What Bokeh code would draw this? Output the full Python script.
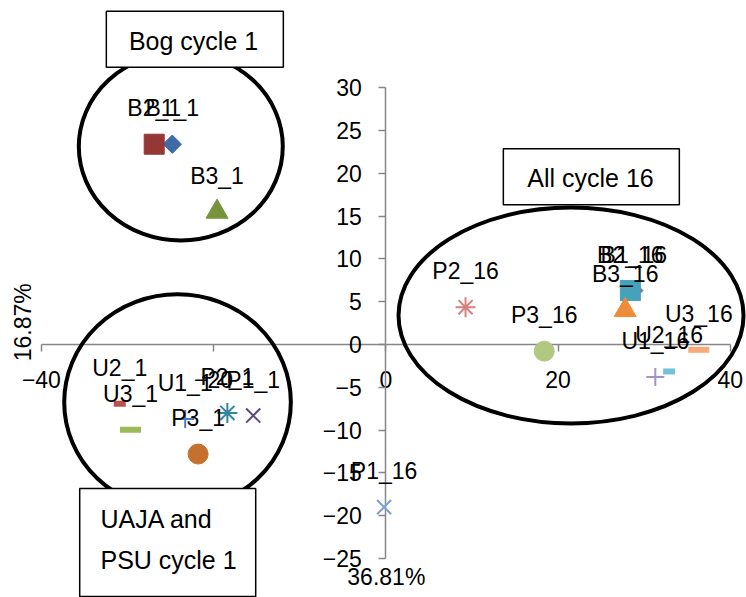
import numpy as np
from bokeh.plotting import figure
from bokeh.models import Range1d, FixedTicker, ColumnDataSource
from bokeh.core.properties import value
from bokeh.embed import file_html
from bokeh.resources import INLINE

# ---------------- data ----------------
sample_names = ["B1_1", "B2_1", "B3_1", "P1_1", "P2_1", "P3_1", "U1_1", "U2_1", "U3_1",
                "B1_16", "B2_16", "B3_16", "P1_16", "P2_16", "P3_16", "U1_16", "U2_16", "U3_16"]
pc1 = [-24.8, -26.9, -19.6, -15.4, -18.4, -21.8, -23.3, -30.9, -29.65,
       28.8, 28.4, 27.8, -0.2, 9.26, 18.4, 31.3, 32.9, 36.35]
pc2 = [23.4, 23.4, 15.5, -8.3, -8.0, -12.8, -8.7, -6.93, -9.97,
       6.3, 6.3, 4.0, -19.0, 4.36, -0.78, -3.8, -3.15, -0.62]
x_ticks = [-40, -20, 0, 20, 40]
y_ticks = [-25, -20, -15, -10, -5, 0, 5, 10, 15, 20, 25, 30]
x_title = "36.81%"
y_title = "16.87%"
group_titles = ["Bog cycle 1", "All cycle 16", "UAJA and", "PSU cycle 1"]

# ---------------- styles ----------------
markers = ["square", "square", "triangle", "x", "asterisk", "circle", "cross", "dash", "dash",
           "square", "square", "triangle", "x", "asterisk", "circle", "cross", "dash", "dash"]
angles = [np.pi / 4, 0, 0, 0, 0, 0, 0, 0, 0,
          np.pi / 4, 0, 0, 0, 0, 0, 0, 0, 0]
sizes = [13, 20, 22, 20, 20, 20, 18, 12, 21,
         13, 20, 22, 20, 20, 20, 18, 12, 21]
lws = [1, 1, 1, 2, 2, 1, 2, 6, 6,
       1, 1, 1, 2, 2, 1, 2, 6, 6]
colors = ["#3E6BA6", "#953735", "#77933C", "#604A7B", "#31859C", "#C5712D", "#4A7EBB", "#C0504D", "#9BBB59",
          "#8064A2", "#46A1BA", "#EE8C3A", "#7F9FD0", "#D7817F", "#B0C882", "#A492C0", "#75C2D8", "#F9AA78"]

FONT = "Liberation Sans"

p = figure(width=746, height=597, output_backend="svg", toolbar_location=None,
           x_range=Range1d(-44.75, 41.89), y_range=Range1d(-29.56, 40.19),
           min_border=0, min_border_left=0, min_border_right=0,
           min_border_top=0, min_border_bottom=0)
p.outline_line_color = None
p.xgrid.visible = False
p.ygrid.visible = False
p.background_fill_color = "white"
p.border_fill_color = "white"

for ax, ticks, bnds in ((p.xaxis[0], x_ticks, (-40, 40)), (p.yaxis[0], y_ticks, (-25, 30))):
    ax.fixed_location = 0
    ax.ticker = FixedTicker(ticks=ticks)
    ax.bounds = bnds
    ax.axis_line_color = "#868686"
    ax.axis_line_width = 1.5
    ax.major_tick_line_color = "#868686"
    ax.major_tick_line_width = 1.5
    ax.major_tick_out = 7
    ax.major_tick_in = 0
    ax.minor_tick_line_color = None
    ax.major_label_text_font = FONT
    ax.major_label_text_font_size = "23px"
    ax.major_label_text_color = "black"
    ax.level = "underlay"
p.xaxis[0].major_label_standoff = 20
p.yaxis[0].major_label_standoff = 17

src = ColumnDataSource(dict(x=pc1, y=pc2, name=sample_names, marker=markers, angle=angles,
                            size=sizes, lw=lws, color=colors))
p.scatter(x="x", y="y", marker="marker", size="size", angle="angle",
          fill_color="color", line_color="color", line_width="lw", source=src)
p.text(x="x", y="y", text="name", source=src, y_offset=-36,
       text_align="center", text_baseline="middle",
       text_font=value(FONT), text_font_size="23px", text_color="black")

# axis titles
p.text(x=[-42.14], y=[2.6], text=[y_title], angle=np.pi / 2, text_align="center",
       text_baseline="middle", text_font=value(FONT), text_font_size="23px", text_color="black")
p.text(x=[0.06], y=[-27.22], text=[x_title], text_align="center",
       text_baseline="middle", text_font=value(FONT), text_font_size="23px", text_color="black")

# group ellipses (annotation shapes)
ell_x = [-23.81, 21.51, -24.19]
ell_y = [23.13, 3.39, -6.74]
ell_w = [23.69, 40.07, 26.32]
ell_h = [21.96, 25.23, 25.23]
p.ellipse(x=ell_x, y=ell_y, width=ell_w, height=ell_h, fill_color=None,
          line_color="black", line_width=4)

# text boxes
box_x = [-22.18, 23.87, -25.33]
box_y = [35.66, 19.59, -23.13]
box_w = [177, 176, 176]
box_h = [56, 56, 108]
p.rect(x=box_x, y=box_y, width=box_w, height=box_h, width_units="screen", height_units="screen",
       fill_color="white", line_color="black", line_width=1.5)
p.text(x=[-22.33, 23.77], y=[35.51, 19.45], text=group_titles[:2], text_align="center",
       text_baseline="middle", text_font=value(FONT), text_font_size="25px", text_color="black")
p.text(x=[-33.14, -33.14], y=[-20.39, -25.23], text=group_titles[2:], text_align="left",
       text_baseline="middle", text_font=value(FONT), text_font_size="25px", text_color="black")

open("out.html", "w").write(file_html(p, INLINE))
